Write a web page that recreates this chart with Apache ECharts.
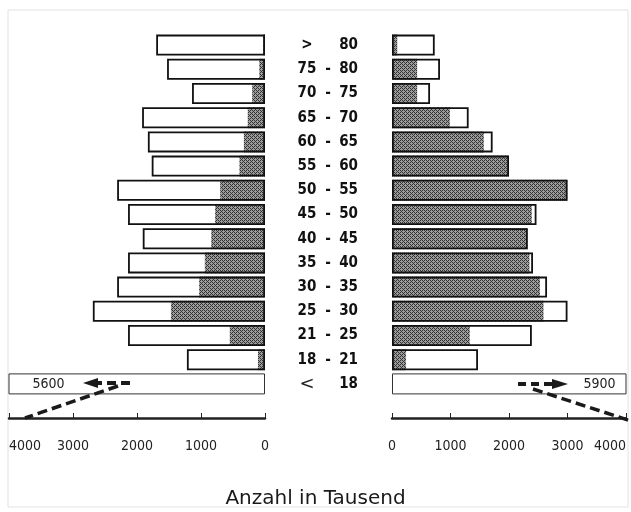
<!DOCTYPE html>
<html>
<head>
<meta charset="utf-8">
<script src="https://cdn.jsdelivr.net/npm/echarts@6/dist/echarts.min.js"></script>
<style>
html,body{margin:0;padding:0;background:#fff;}
#chart{width:631px;height:512px;}
</style>
</head>
<body>
<div id="chart"></div>
<script>
// Age groups, top to bottom
const categories = ['> 80','75 - 80','70 - 75','65 - 70','60 - 65','55 - 60','50 - 55','45 - 50','40 - 45','35 - 40','30 - 35','25 - 30','21 - 25','18 - 21','< 18'];
// Left side (thousands): outlined total and shaded part
const leftTotal  = [1700,1530,1140,1920,1830,1770,2310,2140,1910,2140,2310,2690,2140,1220,5600];
const leftShaded = [30,90,200,270,330,400,700,780,840,940,1030,1470,550,110,0];
// Right side (thousands)
const rightTotal  = [730,820,650,1310,1720,2000,3000,2470,2320,2410,2650,3000,2390,1470,5900];
const rightShaded = [90,430,430,990,1570,2000,3000,2390,2320,2350,2530,2590,1330,240,0];
// Axis tick values
const xTicks = [0,1000,2000,3000,4000];
const axisTitle = 'Anzahl in Tausend';

// dithered cross-hatch texture for the shaded bars
function makePattern(){
  const c = document.createElement('canvas');
  c.width = 4; c.height = 4;
  const ctx = c.getContext('2d');
  ctx.fillStyle = '#9c9c9c';
  ctx.fillRect(0,0,4,4);
  ctx.fillStyle = '#333333';
  for (let x=0;x<4;x++) for (let y=0;y<4;y++){
    if ((x+y)%4===0 || ((x-y+8)%4===2)) ctx.fillRect(x,y,1,1);
  }
  return c;
}
const pattern = {image: makePattern(), repeat: 'repeat'};

const narrow = '"DejaVu Sans Condensed", "Liberation Sans Narrow", sans-serif';
const last = categories.length - 1;

function totalData(arr, pos, dist){
  return arr.map((v,i)=> i===last ? {
    value: v,
    itemStyle: {borderWidth: 1, borderColor: '#333'},
    label: {show: true, position: pos, distance: dist, formatter: '{c}',
      fontFamily: narrow, fontSize: 14, color: '#222'}
  } : v);
}

const xAxisCommon = {
  type: 'value',
  min: xTicks[0], max: xTicks[xTicks.length-1], interval: xTicks[1]-xTicks[0],
  offset: 22,
  splitLine: {show: false},
  axisLine: {show: true, lineStyle: {color: '#222', width: 2.5}},
  axisTick: {show: true, inside: true, length: 5, lineStyle: {color: '#222', width: 1}},
  axisLabel: {margin: 21, fontFamily: narrow, fontSize: 14, color: '#222', showMaxLabel: true, showMinLabel: true,
    formatter: function(v){ return String(v); }}
};

const chart = echarts.init(document.getElementById('chart'), null, {renderer: 'canvas'});
const option = {
  backgroundColor: '#fff',
  animation: false,
  title: {
    text: axisTitle, left: 'center', top: 484,
    textStyle: {fontFamily: '"DejaVu Sans", sans-serif', fontWeight: 'normal', fontSize: 20, color: '#1a1a1a'}
  },
  grid: [
    {left: 9, right: 366, top: 33, height: 363},
    {left: 392, right: 5, top: 33, height: 363}
  ],
  xAxis: [
    Object.assign({}, xAxisCommon, {gridIndex: 0, inverse: true,
      axisLabel: Object.assign({}, xAxisCommon.axisLabel, {alignMaxLabel: 'left'})}),
    Object.assign({}, xAxisCommon, {gridIndex: 1,
      axisLabel: Object.assign({}, xAxisCommon.axisLabel, {alignMaxLabel: 'right'})})
  ],
  yAxis: [
    {type: 'category', gridIndex: 0, data: categories, inverse: true,
     axisLine: {show: false}, axisTick: {show: false}, axisLabel: {show: false}},
    {type: 'category', gridIndex: 1, data: categories, inverse: true,
     axisLine: {show: false}, axisTick: {show: false},
     axisLabel: {
       show: true, margin: 34,
       formatter: function(v){
         const p = v.split(' ');
         if (p.length === 2) {
           return (p[0] === '<' ? '{lt|<}' : '{gt|>}') + '{d|}' + '{n2|' + p[1] + '}';
         }
         return '{n1|' + p[0] + '}{d|-}{n2|' + p[2] + '}';
       },
       rich: {
         n1: {width: 22, align: 'right', fontFamily: narrow, fontWeight: 'bold', fontSize: 15, color: '#111'},
         d:  {width: 20, align: 'center', fontFamily: narrow, fontWeight: 'bold', fontSize: 15, color: '#111'},
         n2: {width: 20, align: 'right', fontFamily: narrow, fontWeight: 'bold', fontSize: 15, color: '#111'},
         gt: {width: 22, align: 'center', fontFamily: narrow, fontWeight: 'bold', fontSize: 15, color: '#111'},
         lt: {width: 22, align: 'right', fontFamily: '"DejaVu Sans", sans-serif', fontWeight: 'normal', fontSize: 18, color: '#222'}
       }
     }}
  ],
  series: [
    {type: 'bar', xAxisIndex: 0, yAxisIndex: 0, data: leftShaded, barWidth: 21, barGap: '-100%',
     itemStyle: {color: pattern}, z: 2},
    {type: 'bar', xAxisIndex: 0, yAxisIndex: 0, data: totalData(leftTotal, 'insideLeft', 24), barWidth: 21, barGap: '-100%',
     itemStyle: {color: 'rgba(0,0,0,0)', borderColor: '#111', borderWidth: 1.8}, z: 3},
    {type: 'bar', xAxisIndex: 1, yAxisIndex: 1, data: rightShaded, barWidth: 21, barGap: '-100%',
     itemStyle: {color: pattern}, z: 2},
    {type: 'bar', xAxisIndex: 1, yAxisIndex: 1, data: totalData(rightTotal, 'insideRight', 11), barWidth: 21, barGap: '-100%',
     itemStyle: {color: 'rgba(0,0,0,0)', borderColor: '#111', borderWidth: 1.8}, z: 3}
  ],
  graphic: [
    // faint scan frame
    {type: 'rect', shape: {x: 8, y: 10, width: 620, height: 497}, style: {fill: 'none', stroke: '#e2e2e2', lineWidth: 1}, silent: true, z: 0},
    // left truncation arrow
    {type: 'polyline', shape: {points: [[130,383],[97,383]]}, style: {stroke: '#1a1a1a', lineWidth: 4, lineDash: [9,5], fill: 'none'}, z: 10},
    {type: 'polygon', shape: {points: [[83,383],[98,378],[98,388]]}, style: {fill: '#1a1a1a'}, z: 10},
    {type: 'polyline', shape: {points: [[118,386],[25,418]]}, style: {stroke: '#1a1a1a', lineWidth: 3.5, lineDash: [10,5], fill: 'none'}, z: 10},
    // right truncation arrow
    {type: 'polyline', shape: {points: [[518,384],[552,384]]}, style: {stroke: '#1a1a1a', lineWidth: 4, lineDash: [8,5], fill: 'none'}, z: 10},
    {type: 'polygon', shape: {points: [[568,384],[552,379],[552,389]]}, style: {fill: '#1a1a1a'}, z: 10},
    {type: 'polyline', shape: {points: [[533,389],[631,421]]}, style: {stroke: '#1a1a1a', lineWidth: 3.5, lineDash: [10,5], fill: 'none'}, z: 10}
  ]
};
chart.setOption(option);
</script>
</body>
</html>
